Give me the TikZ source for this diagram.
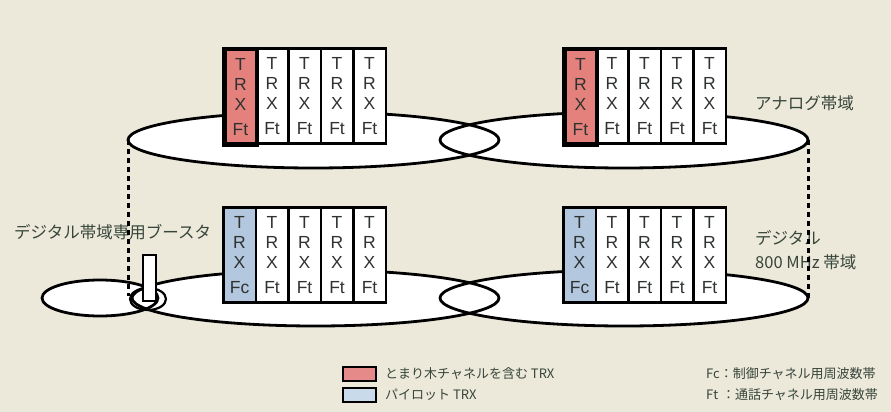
\documentclass[tikz,border=0pt]{standalone}
\usepackage{fontspec}
\setmainfont{Liberation Sans}
\newfontfamily\cjk{Noto Sans CJK JP}
\definecolor{bg}{HTML}{ECE9DA}
\definecolor{redcell}{HTML}{E5817C}
\definecolor{bluecell}{HTML}{B3C8DE}
\definecolor{legred}{HTML}{E58A88}
\definecolor{legblue}{HTML}{C9DAEA}
\definecolor{celltext}{HTML}{2E3230}
\definecolor{labtext}{HTML}{37453A}
\tikzset{
  bandline/.style={draw=black,line width=2.8pt},
  bandfill/.style={fill=white},
  cell/.style={draw=black,line width=2.6pt,fill=white,minimum width=32.5pt,minimum height=95pt,
    inner sep=0pt,anchor=north west,align=center,font=\fontsize{17.5}{20}\selectfont,text=celltext},
  redc/.style={cell,fill=redcell,line width=4.5pt},
  bluec/.style={cell,fill=bluecell},
  link/.style={draw=black,line width=3pt,dash pattern=on 5pt off 4pt},
  lab/.style={anchor=west,inner sep=0pt,text=labtext,font=\cjk\fontsize{16.5}{20}\selectfont},
  leg/.style={anchor=west,inner sep=0pt,text=labtext,font=\cjk\fontsize{13}{16}\selectfont},
  swatch/.style={draw=black,line width=2.6pt,minimum width=33pt,minimum height=14pt,inner sep=0pt}
}
\begin{document}
\begin{tikzpicture}[x=1pt,y=-1pt]
\useasboundingbox (0,0) rectangle (891,412);
\fill[bg] (0,0) rectangle (891,412);
% band fills
\fill[bandfill] (313.5,140) ellipse [x radius=185.5pt,y radius=28pt];
\fill[bandfill] (624,140) ellipse [x radius=184pt,y radius=28pt];
\fill[bandfill] (100,298) ellipse [x radius=58pt,y radius=18pt];
\fill[bandfill] (315.5,298) ellipse [x radius=183.5pt,y radius=28pt];
\fill[bandfill] (624,298) ellipse [x radius=184pt,y radius=28pt];
% band outlines
\draw[bandline] (313.5,140) ellipse [x radius=185.5pt,y radius=28pt];
\draw[bandline] (624,140) ellipse [x radius=184pt,y radius=28pt];
\draw[bandline] (100,298) ellipse [x radius=58pt,y radius=18pt];
\draw[bandline] (315.5,298) ellipse [x radius=183.5pt,y radius=28pt];
\draw[bandline] (624,298) ellipse [x radius=184pt,y radius=28pt];
% labels
\node[lab] (l1) at (755,103) {アナログ帯域};
\node[lab] (l2) at (14,232) {デジタル帯域専用ブースタ};
\node[lab] (l3) at (755,238) {デジタル};
\node[lab] (l4) at (755,262) {800 MHz 帯域};
% dashed links
\coordinate (tlw) at (128,140);
\coordinate (blw) at (128,296);
\coordinate (tre) at (808,140);
\coordinate (bre) at (808,298);
\draw[link] (tlw) -- (blw);
\draw[link] (tre) -- (bre);
% booster
\draw[bandline,line width=2.2pt] (148,299) ellipse [x radius=18pt,y radius=11pt];
\node[draw=black,fill=white,line width=2.2pt,minimum width=13pt,minimum height=46pt,inner sep=0pt,anchor=north west] (boost) at (141.5,254) {};
% top-left group
\node[cell] (a2) at (254.5,47) {T\\R\\X\\[5pt]Ft};
\node[cell] (a3) at (287,47) {T\\R\\X\\[5pt]Ft};
\node[cell] (a4) at (319.5,47) {T\\R\\X\\[5pt]Ft};
\node[cell] (a5) at (352,47) {T\\R\\X\\[5pt]Ft};
\node[redc] (a1) at (222,47) {T\\R\\X\\[5pt]Ft};
% top-right group
\node[cell] (b2) at (594.5,47) {T\\R\\X\\[5pt]Ft};
\node[cell] (b3) at (627,47) {T\\R\\X\\[5pt]Ft};
\node[cell] (b4) at (659.5,47) {T\\R\\X\\[5pt]Ft};
\node[cell] (b5) at (692,47) {T\\R\\X\\[5pt]Ft};
\node[redc] (b1) at (562,47) {T\\R\\X\\[5pt]Ft};
% bottom-left group
\node[bluec] (c1) at (222,206) {T\\R\\X\\[5pt]Fc};
\node[cell] (c2) at (254.5,206) {T\\R\\X\\[5pt]Ft};
\node[cell] (c3) at (287,206) {T\\R\\X\\[5pt]Ft};
\node[cell] (c4) at (319.5,206) {T\\R\\X\\[5pt]Ft};
\node[cell] (c5) at (352,206) {T\\R\\X\\[5pt]Ft};
% bottom-right group
\node[bluec] (d1) at (562,206) {T\\R\\X\\[5pt]Fc};
\node[cell] (d2) at (594.5,206) {T\\R\\X\\[5pt]Ft};
\node[cell] (d3) at (627,206) {T\\R\\X\\[5pt]Ft};
\node[cell] (d4) at (659.5,206) {T\\R\\X\\[5pt]Ft};
\node[cell] (d5) at (692,206) {T\\R\\X\\[5pt]Ft};
% legend
\node[swatch,fill=legred] (s1) at (359.5,374) {};
\node[swatch,fill=legblue] (s2) at (359.5,395) {};
\node[leg] (t1) at (385,374) {とまり木チャネルを含む TRX};
\node[leg] (t2) at (385,395) {パイロット TRX};
\node[leg] (t3) at (706,374) {Fc：制御チャネル用周波数帯};
\node[leg] (t4) at (706,395) {Ft\hspace{0.3em}：通話チャネル用周波数帯};
\end{tikzpicture}
\end{document}
